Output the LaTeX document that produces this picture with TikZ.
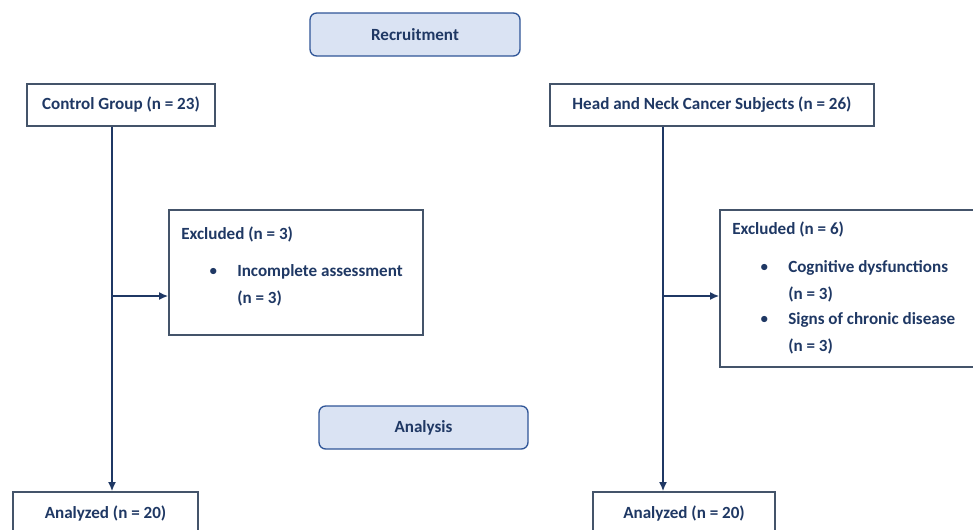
\documentclass[tikz,border=0pt]{standalone}
\usepackage{fontspec}
\setmainfont{Carlito}
\usepackage{tikz}
\usetikzlibrary{arrows.meta}
\definecolor{navy}{RGB}{31,56,100}
\definecolor{boxline}{RGB}{68,84,106}
\definecolor{phasefill}{RGB}{218,227,243}
\definecolor{phaseline}{RGB}{47,85,151}
\tikzset{>=Latex}
\tikzset{box/.style = {shape=rectangle,draw=boxline,line width=1pt,fill=white,text=navy,font=\bfseries\fontsize{12.8}{14}\selectfont}}
\tikzset{phase/.style = {box,draw=phaseline,fill=phasefill,rounded corners=5pt}}
\tikzset{label/.style = {anchor=west,inner sep=0pt,text=navy,font=\bfseries\fontsize{12.8}{14}\selectfont}}
\tikzset{edge/.style = {->,draw=navy,line width=1.5pt,>={Latex[length=7pt,width=6pt]}}}
\begin{document}
\begin{tikzpicture}[x=0.75pt,y=-0.75pt]

            \useasboundingbox (0,0) rectangle (973,529);
            \clip (0,0) rectangle (973,529);

            \node[phase,minimum width=157.5pt,minimum height=32.25pt] (recruit) at (415,34.5) {Recruitment};
            \node[box,minimum width=141pt,minimum height=31.5pt] (control) at (121,105) {Control Group (n = 23)};
            \node[box,minimum width=243pt,minimum height=31.5pt] (hnc) at (712,105) {Head and Neck Cancer Subjects (n = 26)};

            \node[box,minimum width=190.5pt,minimum height=93.75pt] (exclL) at (296,272.5) {};
            \node[label] (exclLt) at (181,234) {Excluded (n = 3)};
            \node[label] (bulL) at (209,272) {$\bullet$};
            \node[label] (itemL) at (237,272) {Incomplete assessment};
            \node[label] (itemLn) at (237,298) {(n = 3)};

            \node[box,minimum width=192pt,minimum height=117.75pt] (exclR) at (848,288.5) {};
            \node[label] (exclRt) at (732,229) {Excluded (n = 6)};
            \node[label] (bulRa) at (760,268) {$\bullet$};
            \node[label] (itemRa) at (788,268) {Cognitive dysfunctions};
            \node[label] (itemRan) at (788,294) {(n = 3)};
            \node[label] (bulRb) at (760,320) {$\bullet$};
            \node[label] (itemRb) at (788,320) {Signs of chronic disease};
            \node[label] (itemRbn) at (788,346) {(n = 3)};

            \node[phase,minimum width=156.75pt,minimum height=32.25pt] (analysis) at (423.5,427.5) {Analysis};
            \node[box,minimum width=138.75pt,minimum height=31.5pt] (anaL) at (105.5,513) {Analyzed (n = 20)};
            \node[box,minimum width=136.5pt,minimum height=31.5pt] (anaR) at (684,513) {Analyzed (n = 20)};

            \coordinate (branchL) at (112,296);
            \coordinate (branchR) at (663,296);

            \draw[edge] (branchL |- control.south) -- (branchL |- anaL.north);
            \draw[edge] (branchL) -- (branchL -| exclL.west);

            \draw[edge] (branchR |- hnc.south) -- (branchR |- anaR.north);
            \draw[edge] (branchR) -- (branchR -| exclR.west);
            \end{tikzpicture}
\end{document}
